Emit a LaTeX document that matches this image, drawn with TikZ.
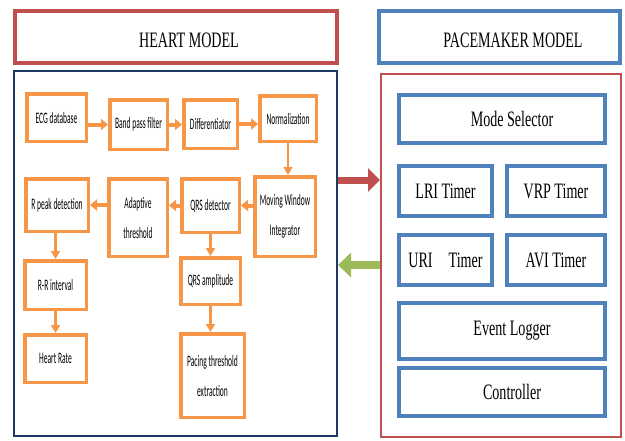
\documentclass[tikz,border=0pt]{standalone}
\usepackage{fontspec}
\usetikzlibrary{arrows.meta}
\newfontfamily\calfont[FakeStretch=0.47]{Carlito}
\newfontfamily\timesfont[FakeStretch=0.64]{Liberation Serif}
\definecolor{hmred}{HTML}{C0504D}
\definecolor{pmblue}{HTML}{4F81BD}
\definecolor{flow}{HTML}{F79646}
\definecolor{navy}{HTML}{1F3864}
\definecolor{back}{HTML}{9BBB59}

\begin{document}
\begin{tikzpicture}[x = 1pt, y = -1pt,
	stage/.style = {draw = flow, line width = 3.5pt, rectangle, align = center, inner sep = 0pt, font = \calfont\fontsize{16}{30}\selectfont},
	unit/.style = {draw = pmblue, line width = 4pt, rectangle, inner sep = 0pt, font = \timesfont\fontsize{22}{26}\selectfont},
	titlebox/.style = {line width = 4pt, rectangle, inner sep = 0pt},
	titletext/.style = {inner sep = 0pt, font = \timesfont\fontsize{22}{26}\selectfont},
	flowarrow/.style = {draw = flow, line width = 4pt, -{Triangle[length = 7pt, width = 11pt]}},
	downarrow/.style = {draw = flow, line width = 2.2pt, -{Triangle[length = 8pt, width = 9pt]}}]

\path[fill = white] (0,0) rectangle (625,440);
\useasboundingbox (0,0) rectangle (625,440);

\node[titlebox, draw = hmred, minimum width = 322pt, minimum height = 52pt] (hmtitle) at (176, 37) {};
\node[titletext] (hmname) at (189, 40) {HEART MODEL};
\node[titlebox, draw = pmblue, minimum width = 241pt, minimum height = 52pt] (pmtitle) at (499.5, 37) {};
\node[titletext] (pmname) at (513, 40) {PACEMAKER MODEL};

\node[draw = navy, line width = 2pt, rectangle, minimum width = 323pt, minimum height = 365pt] (heart) at (175.5, 253.5) {};
\node[draw = hmred, line width = 2pt, rectangle, minimum width = 240pt, minimum height = 363pt] (pace) at (501, 255.5) {};

\foreach \name/\x/\y/\w/\h/\txt in {
	ecg/56.5/117.5/59.5/47.5/{ECG database},
	band/138.5/124.5/57.5/49.5/{Band pass filter},
	diff/210.5/124/53.5/48.5/{Differentiator},
	norm/288/118.5/56.5/45.5/{Normalization},
	rpeak/57/205/62.5/52.5/{R peak detection},
	adapt/138/217.5/58.5/77.5/{Adaptive\\threshold},
	qrsdet/210.5/205.5/57.5/53.5/{QRS detector},
	mwi/285/216.5/60.5/79.5/{Moving Window\\Integrator},
	rr/55.5/285/61.5/48.5/{R-R interval},
	qrsamp/210.5/281/59.5/46.5/{QRS amplitude},
	hr/55.5/358.5/61.5/47.5/{Heart Rate},
	pacing/212.5/375.5/63.5/83.5/{Pacing threshold\\extraction}}
	\node[stage, minimum width = \w pt, minimum height = \h pt] (\name) at (\x, \y) {\txt};

\draw[flowarrow] (ecg.east |- band.west) -- (band.west);
\draw[flowarrow] (band.east) -- (band.east -| diff.west);
\draw[flowarrow] (diff.east) -- (diff.east -| norm.west);
\draw[downarrow] (norm.south) -- (norm.south |- mwi.north);
\draw[flowarrow] (mwi.west |- qrsdet.east) -- (qrsdet.east);
\draw[flowarrow] (qrsdet.west) -- (qrsdet.west -| adapt.east);
\draw[flowarrow] (adapt.west |- rpeak.east) -- (rpeak.east);
\draw[downarrow] (rpeak.south -| rr.north) -- (rr.north);
\draw[downarrow] (rr.south) -- (hr.north);
\draw[downarrow] (qrsdet.south) -- (qrsdet.south |- qrsamp.north);
\draw[downarrow] (qrsamp.south) -- (qrsamp.south |- pacing.north);

\foreach \name/\x/\y/\w/\h/\txt in {
	mode/502/119/206/48/{\hspace*{20pt}Mode Selector},
	lri/445.5/191/93/50/{LRI Timer},
	vrp/556/191/98/50/{VRP Timer},
	uri/445.5/260/93/50/{URI\hspace{16pt}Timer},
	avi/556/260/98/50/{AVI Timer},
	event/502/331/206/56/{\hspace*{20pt}Event Logger},
	ctrl/502/392/206/48/{\hspace*{20pt}Controller}}
	\node[unit, minimum width = \w pt, minimum height = \h pt] (\name) at (\x, \y) {\txt};

\coordinate (fwd) at (0, 180);
\coordinate (bwd) at (0, 265);
\draw[draw = hmred, line width = 7pt, -{Triangle[length = 12pt, width = 23pt]}] (heart.east |- fwd) -- (pace.west |- fwd);
\draw[draw = back, line width = 8pt, -{Triangle[length = 13pt, width = 24pt]}] (pace.west |- bwd) -- (heart.east |- bwd);

\end{tikzpicture}
\end{document}
